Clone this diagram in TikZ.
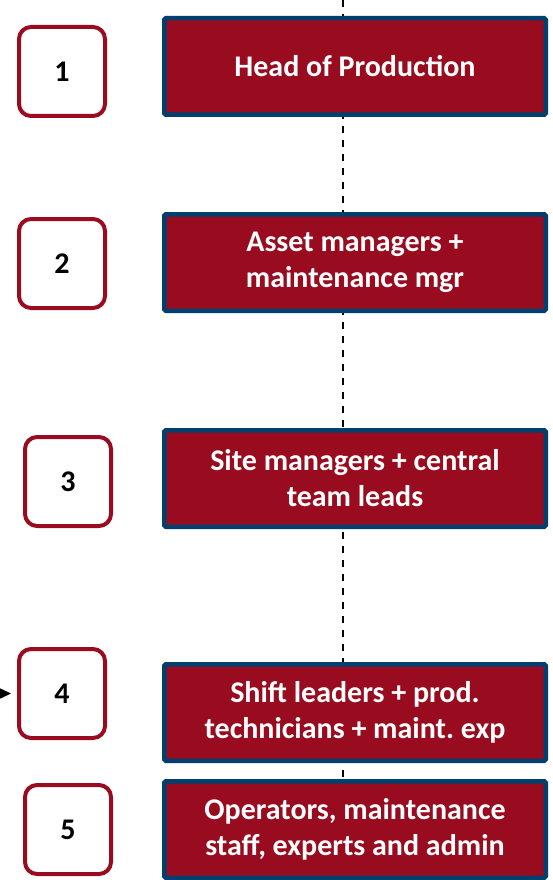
\documentclass[tikz,border=0pt]{standalone}
\usepackage{fontspec}
\setmainfont{Carlito}
\usepackage{tikz}
\usetikzlibrary{arrows.meta}
\usetikzlibrary{backgrounds}
\usetikzlibrary{positioning}
\definecolor{levelRed}{HTML}{990C1F}
\definecolor{levelBlue}{HTML}{003F6E}
\frenchspacing
\begin{document}
\begin{tikzpicture}
      [x=1pt,y=1pt,
       levelBox/.style={rectangle,draw=levelBlue,fill=levelRed,line width=4.5pt,rounded corners=1.5pt,
         minimum width=381.5pt,minimum height=96.5pt,inner sep=0pt,align=center,
         text=white,font=\fontsize{30}{36}\selectfont\bfseries},
       numberBox/.style={rectangle,draw=levelRed,fill=white,line width=4pt,rounded corners=12pt,
         minimum width=86pt,minimum height=89pt,inner sep=0pt,
         font=\fontsize{30}{30}\selectfont\bfseries}]
      \useasboundingbox (0,0) rectangle (552,-880);
      \node[levelBox] (head) at (355,-66.5) {Head of Production};
      \node[levelBox] (asset) [below=95pt of head] {Asset managers +\\maintenance mgr};
      \node[levelBox] (site) [below=115pt of asset] {Site managers + central\\team leads};
      \node[levelBox] (shift) [below=133pt of site] {Shift leaders + prod.\\technicians + maint. exp};
      \node[levelBox] (staff) [below=16pt of shift] {Operators, maintenance\\staff, experts and admin};
      \node[numberBox] (one) [left=55pt of head,yshift=-5pt] {1};
      \node[numberBox] (two) [left=55pt of asset,yshift=-1pt] {2};
      \node[numberBox] (three) [left=49pt of site,yshift=-3pt] {3};
      \node[numberBox] (four) [left=55pt of shift,yshift=19pt] {4};
      \node[numberBox] (five) [left=49pt of staff] {5};
      \coordinate (top) at (343,0);
      \coordinate (feed) at (-4,0 |- four.west);
      \begin{scope}[on background layer]
        \draw[line width=1.5pt,dash pattern=on 7pt off 7pt] (top) -- (top |- staff.north);
      \end{scope}
      \draw[line width=1.5pt,-{Triangle[length=12pt,width=11pt]},shorten >=6pt] (feed) -- (four.west);
    \end{tikzpicture}
\end{document}
